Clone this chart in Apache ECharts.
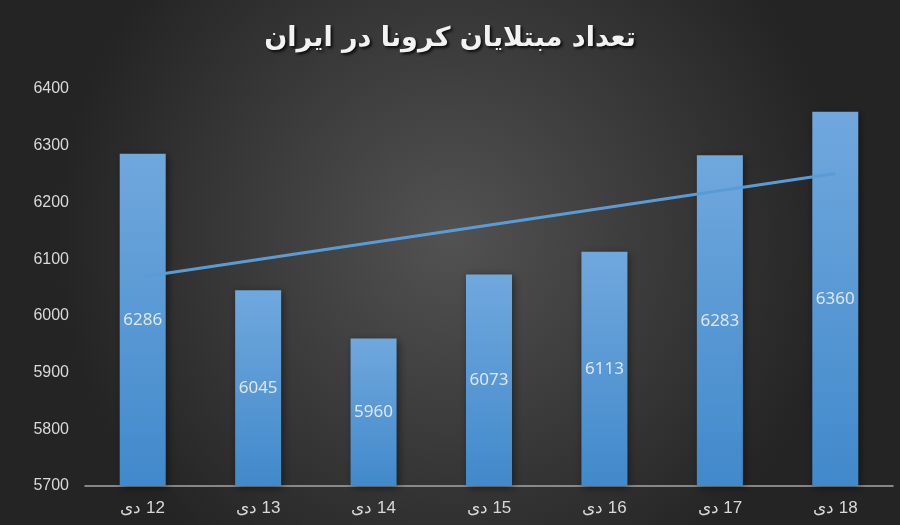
<!DOCTYPE html>
<html><head><meta charset="utf-8">
<script src="https://cdn.jsdelivr.net/npm/echarts@6/dist/echarts.min.js"></script>
<style>html,body{margin:0;padding:0;}#c{width:900px;height:525px;}</style>
</head><body><div id="c"></div>
<script>
const titleText = 'تعداد مبتلایان کرونا در ایران';
const categories = ['12 دی','13 دی','14 دی','15 دی','16 دی','17 دی','18 دی'];
const cases = [6286, 6045, 5960, 6073, 6113, 6283, 6360];
const trend = [6069, null, null, null, null, null, 6251];

const chart = echarts.init(document.getElementById('c'));
chart.setOption({
  backgroundColor: {
    type: 'radial', x: 0.5, y: 0.45, r: 0.75,
    colorStops: [{offset: 0, color: '#525252'}, {offset: 1, color: '#242424'}]
  },
  title: {
    text: titleText, left: 'center', top: 20,
    textStyle: {color: '#f2f2f2', fontSize: 27, fontWeight: 'bold', fontFamily: 'DejaVu Sans',
      textShadowColor: 'rgba(0,0,0,0.8)', textShadowBlur: 3, textShadowOffsetX: 2, textShadowOffsetY: 2}
  },
  grid: {left: 85, right: 7, top: 89, bottom: 39},
  xAxis: {
    type: 'category', data: categories,
    axisLine: {show: true, lineStyle: {color: '#a6a6a6', width: 1.5}},
    axisTick: {show: false},
    axisLabel: {color: '#d9d9d9', fontSize: 17, margin: 14, fontFamily: 'Liberation Sans',
      formatter: v => '\u200F' + v}
  },
  yAxis: {
    type: 'value', min: 5700, max: 6400, interval: 100,
    axisLine: {show: false}, axisTick: {show: false}, splitLine: {show: false},
    axisLabel: {color: '#d9d9d9', fontSize: 16, margin: 16, fontFamily: 'Liberation Sans',
      formatter: v => String(v)}
  },
  series: [{
    type: 'bar', data: cases, barWidth: 46,
    itemStyle: {
      color: {type: 'linear', x: 0, y: 0, x2: 0, y2: 1,
        colorStops: [{offset: 0, color: '#70a8dd'}, {offset: 1, color: '#4189cb'}]},
      shadowColor: 'rgba(0,0,0,0.45)', shadowBlur: 8, shadowOffsetX: 2, shadowOffsetY: 2
    },
    label: {show: true, position: 'inside', color: '#dde6ef', fontSize: 17, fontFamily: 'Noto Sans'},
    z: 2
  }, {
    type: 'line', data: trend, connectNulls: true, symbol: 'none',
    lineStyle: {color: '#5b9bd5', width: 3},
    z: 3, silent: true
  }]
});
</script></body></html>
